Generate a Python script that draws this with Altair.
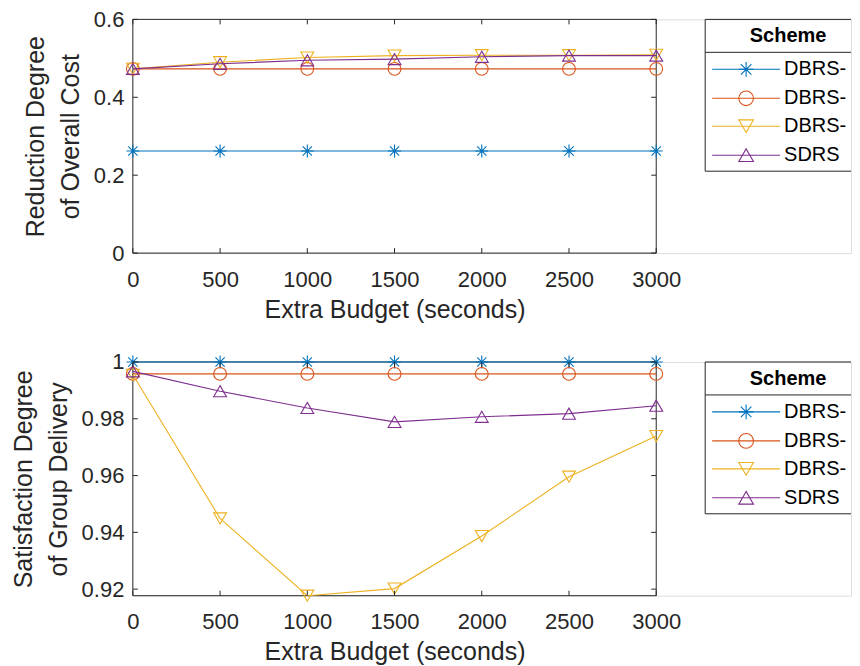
import altair as alt
import pandas as pd

# ---------------- data ----------------
x_vals = [0, 500, 1000, 1500, 2000, 2500, 3000]
series = ["DBRS-N", "DBRS-F", "DBRS-S", "SDRS"]
colors = ["#0072BD", "#D95319", "#EDB120", "#7E2F8E"]

# Reduction degree of overall cost
cost_dbrs_n = [0.262, 0.262, 0.262, 0.262, 0.262, 0.262, 0.262]
cost_dbrs_f = [0.473, 0.473, 0.473, 0.473, 0.473, 0.473, 0.473]
cost_dbrs_s = [0.473, 0.490, 0.502, 0.507, 0.508, 0.508, 0.509]
cost_sdrs = [0.473, 0.486, 0.495, 0.498, 0.504, 0.507, 0.507]

# Satisfaction degree of group delivery
sat_dbrs_n = [1.0, 1.0, 1.0, 1.0, 1.0, 1.0, 1.0]
sat_dbrs_f = [0.9958, 0.9958, 0.9958, 0.9958, 0.9958, 0.9958, 0.9958]
sat_dbrs_s = [0.9955, 0.9449, 0.9177, 0.9202, 0.9387, 0.9596, 0.9739]
sat_sdrs = [0.9967, 0.9897, 0.9838, 0.9789, 0.9807, 0.9818, 0.9846]

x_ticks = [0, 500, 1000, 1500, 2000, 2500, 3000]
cost_ticks = [0, 0.2, 0.4, 0.6]
sat_ticks = [0.92, 0.94, 0.96, 0.98, 1.0]

x_title = "Extra Budget (seconds)"
cost_title = ["Reduction Degree", "of Overall Cost"]
sat_title = ["Satisfaction Degree", "of Group Delivery"]
legend_title = "Scheme"

# ---------------- style ----------------
FONT = "Liberation Sans"
AX = "#262626"
W, H = 524, 234          # axes box
VIEW_W = 719             # view incl. the legend strip that runs to the page edge
ASTERISK = "M0,-1L0,1M-1,0L1,0M-0.72,-0.72L0.72,0.72M-0.72,0.72L0.72,-0.72"
shapes = [ASTERISK, "circle", "triangle-down", "triangle-up"]
sizes = {"plot": 165, "legend": 215}


def panel(vals, ydom, yticks, ytitle):
    rows = []
    for name, ys in zip(series, vals):
        for xv, yv in zip(x_vals, ys):
            rows.append({"x": xv, "y": yv, "series": name})
    df = pd.DataFrame(rows)

    xs = alt.Scale(domain=[0, 3000], nice=False, range=[0, W])
    ys_ = alt.Scale(domain=ydom, nice=False, zero=False)
    x_axis = alt.Axis(
        values=x_ticks, format="d", title=x_title, ticks=False, domain=False,
        labelPadding=16, titlePadding=7, labelFontSize=22, titleFontSize=25,
        labelFlush=False, titleX=W / 2, titleAlign="center",
        labelFont=FONT, titleFont=FONT, labelColor=AX, titleColor=AX,
        titleFontWeight="normal", grid=False)
    y_axis = alt.Axis(
        values=yticks, format="~g", title=ytitle, ticks=False, domain=False,
        labelPadding=9, titlePadding=10, labelFontSize=22, titleFontSize=25,
        labelFlush=False, titleLineHeight=35, labelFont=FONT, titleFont=FONT,
        labelColor=AX, titleColor=AX, titleFontWeight="normal", grid=False)
    x = alt.X("x:Q", scale=xs, axis=x_axis)
    y = alt.Y("y:Q", scale=ys_, axis=y_axis)
    color = alt.Color("series:N", scale=alt.Scale(domain=series, range=colors), legend=None)
    shape = alt.Shape("series:N", scale=alt.Scale(domain=series, range=shapes), legend=None)

    layers = []
    one = alt.Chart(pd.DataFrame({"a": [0]}))
    # axes box (MATLAB "box on")
    layers.append(one.mark_rect(fill="white", stroke=AX, strokeWidth=1).encode(
        x=alt.value(0), x2=alt.value(W), y=alt.value(0), y2=alt.value(H)))

    base = alt.Chart(df)
    for name in series:
        sub = base.transform_filter(alt.datum.series == name)
        layers.append(sub.mark_line(strokeWidth=1.1).encode(x=x, y=y, color=color))
        layers.append(sub.mark_point(filled=False, size=sizes["plot"], strokeWidth=1.1, opacity=1)
                      .encode(x=x, y=y, color=color, shape=shape))

    # inward ticks
    xt = alt.Chart(pd.DataFrame({"x": x_ticks}))
    yt = alt.Chart(pd.DataFrame({"y": yticks}))
    layers.append(xt.mark_rule(color=AX, strokeWidth=1).encode(
        x=x, y=alt.value(H), y2=alt.value(H - 5)))
    layers.append(xt.mark_rule(color=AX, strokeWidth=1).encode(
        x=x, y=alt.value(0), y2=alt.value(5)))
    layers.append(yt.mark_rule(color=AX, strokeWidth=1).encode(
        y=y, x=alt.value(0), x2=alt.value(5)))
    layers.append(yt.mark_rule(color=AX, strokeWidth=1).encode(
        y=y, x=alt.value(W), x2=alt.value(W - 5)))

    # legend (MATLAB style box with title), cut by the page edge
    bx0, bx1, by1, sep = 573, VIEW_W, 152, 33
    for (ax0, ax1, ay0, ay1) in [(bx0, bx1, 0, 0), (bx0, bx1, by1, by1),
                                 (bx0, bx1, sep, sep), (bx0, bx0, 0, by1)]:
        layers.append(one.mark_rule(color=AX, strokeWidth=1).encode(
            x=alt.value(ax0), x2=alt.value(ax1), y=alt.value(ay0), y2=alt.value(ay1)))
    layers.append(one.mark_text(text=legend_title, font=FONT, fontSize=20, fontWeight="bold",
                                color="black", align="center", baseline="middle").encode(
        x=alt.value(656), y=alt.value(17)))
    row_y = [50, 79, 107, 136]
    for i, name in enumerate(series):
        ldf = alt.Chart(pd.DataFrame({"series": [name]}))
        layers.append(ldf.mark_rule(color=colors[i], strokeWidth=1.1).encode(
            x=alt.value(580), x2=alt.value(648), y=alt.value(row_y[i])))
        layers.append(ldf.mark_point(filled=False, size=sizes["legend"], strokeWidth=1.1,
                                     opacity=1, color=colors[i], shape=shapes[i]).encode(
            x=alt.value(614), y=alt.value(row_y[i])))
        layers.append(ldf.mark_text(font=FONT, fontSize=20, color="black", align="left",
                                    baseline="middle", limit=VIEW_W - 652,
                                    ellipsis="\u200b").encode(
            text="series:N", x=alt.value(652), y=alt.value(row_y[i])))

    return alt.layer(*layers).properties(width=VIEW_W, height=H)


top = panel([cost_dbrs_n, cost_dbrs_f, cost_dbrs_s, cost_sdrs], [0, 0.6], cost_ticks, cost_title)
bottom = panel([sat_dbrs_n, sat_dbrs_f, sat_dbrs_s, sat_sdrs], [0.9177, 1.0], sat_ticks, sat_title)

chart = alt.vconcat(top, bottom, spacing=27).properties(
    padding={"left": 2, "top": -1, "right": 0, "bottom": 0}
).configure_view(strokeWidth=0).configure(background="white")

chart.save("out.html", embed_options={"renderer": "svg", "actions": False})
